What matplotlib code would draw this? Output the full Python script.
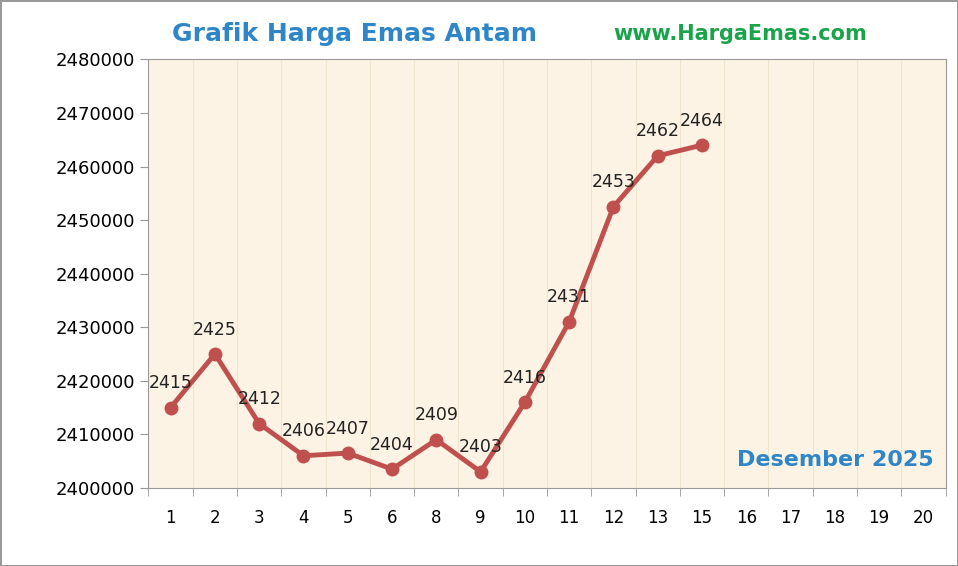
import matplotlib.pyplot as plt
import numpy as np

days = ["1", "2", "3", "4", "5", "6", "8", "9", "10", "11", "12", "13", "15",
        "16", "17", "18", "19", "20"]
prices = [2415000, 2425000, 2412000, 2406000, 2406500, 2403500, 2409000,
          2403000, 2416000, 2431000, 2452500, 2462000, 2464000]
labels = ["2415", "2425", "2412", "2406", "2407", "2404", "2409", "2403",
          "2416", "2431", "2453", "2462", "2464"]

fig = plt.figure(figsize=(9.58, 5.66), dpi=100)
fig.patch.set_facecolor("white")
fig.patch.set_edgecolor("#999")
fig.patch.set_linewidth(2)
ax = fig.add_axes([0.155, 0.138, 0.832, 0.757])
ax.set_facecolor("#fcf3e4")

xs = np.arange(len(days))
px = xs[:len(prices)]
ax.plot(px, prices, color="#c0504d", linewidth=3.5, marker="o", markersize=9,
        zorder=3)
for x, y, t in zip(px, prices, labels):
    ax.annotate(t, xy=(x, y), xytext=(0, 14), textcoords="offset points",
                ha="center", fontsize=12.5, color="#222", zorder=4)

ax.set_xlim(-0.5, len(days) - 0.5)
ax.set_ylim(2400000, 2480000)
ax.set_yticks(np.arange(2400000, 2480001, 10000))
ax.set_yticklabels([str(v) for v in range(2400000, 2480001, 10000)], fontsize=13)
ax.set_xticks(xs)
ax.set_xticklabels(days, fontsize=12)
ax.set_xticks(np.arange(-0.5, len(days), 1), minor=True)
ax.tick_params(axis="x", which="major", length=0, pad=15)
ax.tick_params(axis="x", which="minor", length=6, color="#999")
ax.tick_params(axis="y", length=6, color="#999")
ax.grid(True, axis="x", which="minor", color="#f0e4cc", linewidth=0.8)
for s in ax.spines.values():
    s.set_color("#999")

fig.text(0.18, 0.94, "Grafik Harga Emas Antam", fontsize=18, color="#2e86c8",
         fontweight="bold", va="center")
fig.text(0.64, 0.94, "www.HargaEmas.com", fontsize=15, color="#1aa34a",
         fontweight="bold", va="center")
ax.text(0.985, 0.065, "Desember 2025", transform=ax.transAxes, fontsize=16,
        color="#2e86c8", fontweight="bold", ha="right", va="center")

fig.savefig("out.png", dpi=100, facecolor="white", edgecolor="#999")
